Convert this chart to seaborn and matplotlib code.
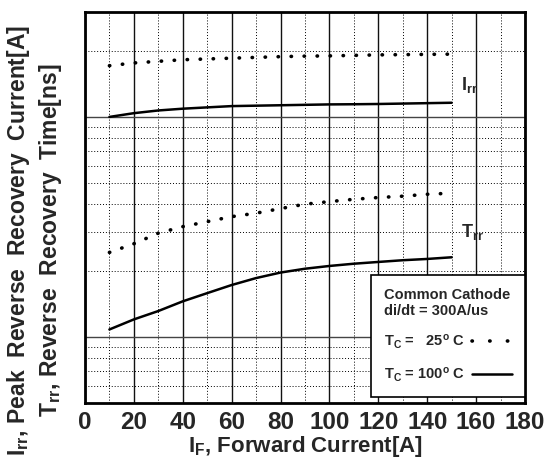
import numpy as np
import pandas as pd
import matplotlib
matplotlib.use('Agg')
import matplotlib.pyplot as plt
import seaborn as sns
from matplotlib.ticker import MultipleLocator, LogLocator, NullFormatter
from matplotlib.lines import Line2D

# Forward current [A]
i_f = [10, 20, 30, 40, 50, 60, 70, 80, 90, 100, 110, 120, 130, 140, 150]

# Peak reverse recovery current [A]
irr_25 = [17.1, 17.6, 17.9, 18.2, 18.35, 18.5, 18.65, 18.8, 18.9, 18.95, 19.05, 19.15, 19.2, 19.25, 19.3]
irr_100 = [10.0, 10.4, 10.7, 10.9, 11.05, 11.2, 11.25, 11.3, 11.35, 11.4, 11.42, 11.45, 11.5, 11.55, 11.6]

# Reverse recovery time [ns] (scaled on the same log axis)
trr_25 = [2.42, 2.65, 2.96, 3.17, 3.34, 3.52, 3.65, 3.83, 4.01, 4.12, 4.22, 4.30, 4.36, 4.45, 4.50]
trr_100 = [1.08, 1.20, 1.31, 1.45, 1.58, 1.72, 1.85, 1.96, 2.04, 2.10, 2.15, 2.19, 2.23, 2.26, 2.30]

x_ticks = [0, 20, 40, 60, 80, 100, 120, 140, 160, 180]

sns.set_style('white')
plt.rcParams['font.family'] = ['Liberation Sans', 'DejaVu Sans']
plt.rcParams['font.weight'] = 'bold'
plt.rcParams['mathtext.default'] = 'regular'

fig = plt.figure(figsize=(5.5, 4.69), dpi=100)
ax = fig.add_axes([0.1545, 0.1407, 0.80, 0.8337])

dot_style = (0, (0.1, 3.5))
for y in [irr_25, trr_25]:
    sns.lineplot(x=i_f, y=y, ax=ax, color='black', lw=2.6,
                 linestyle=dot_style, dash_capstyle='round')
for y in [irr_100, trr_100]:
    sns.lineplot(x=i_f, y=y, ax=ax, color='black', lw=1.8)

ax.set_yscale('log')
ax.set_xlim(0, 180)
ax.set_ylim(0.5, 30)
ax.set_xticks(x_ticks)
ax.xaxis.set_minor_locator(MultipleLocator(10))
ax.yaxis.set_major_locator(LogLocator(base=10, subs=[1.0]))
ax.yaxis.set_minor_locator(LogLocator(base=10, subs=np.arange(2, 10)))
ax.yaxis.set_major_formatter(NullFormatter())
ax.yaxis.set_minor_formatter(NullFormatter())
ax.tick_params(which='both', length=0)
ax.tick_params(axis='x', labelsize=17.5, pad=6)
for lab in ax.get_xticklabels():
    lab.set_fontweight('bold')

ax.grid(which='major', axis='x', ls='-', color='#111111', lw=1.0)
ax.grid(which='major', axis='y', ls='-', color='#444444', lw=1.0)
ax.grid(which='minor', ls=(0, (1, 2)), color='black', lw=0.7)
for s in ax.spines.values():
    s.set_linewidth(2.0)
    s.set_color('black')

ax.set_xlabel('I$_F$, Forward Current[A]', fontsize=16, fontweight='bold', labelpad=0)
ax.set_ylabel('')

ax.text(154, 14.0, 'I$_{rr}$', fontsize=13, fontweight='bold', ha='left', va='center')
ax.text(154, 3.0, 'T$_{rr}$', fontsize=13, fontweight='bold', ha='left', va='center')

fig.text(19 / 550, 0.488, 'I$_{rr}$, Peak  Reverse  Recovery  Current[A]',
         rotation=90, ha='center', va='center', fontsize=16.5, fontweight='bold')
fig.text(51 / 550, 0.488, 'T$_{rr}$, Reverse  Recovery  Time[ns]',
         rotation=90, ha='center', va='center', fontsize=16.5, fontweight='bold')

handles = [Line2D([], [], color='black', lw=2.6, linestyle=(0, (0.1, 4.8)), dash_capstyle='round'),
           Line2D([], [], color='black', lw=1.8)]
labels = ['T$_C$ =   25$^o$ C', 'T$_C$ = 100$^o$ C']
leg = ax.legend(handles, labels, title='Common Cathode\ndi/dt = 300A/us',
                loc='lower right', bbox_to_anchor=(1.0, 0.015), borderaxespad=0,
                markerfirst=False, fancybox=False, framealpha=1, edgecolor='black',
                prop={'weight': 'bold', 'size': 10.5},
                title_fontproperties={'weight': 'bold', 'size': 10.5},
                alignment='left', handlelength=2.7, handletextpad=0.5,
                labelspacing=1.0, borderpad=0.9)
leg.get_frame().set_linewidth(1.2)

fig.savefig('out.png', dpi=100)
